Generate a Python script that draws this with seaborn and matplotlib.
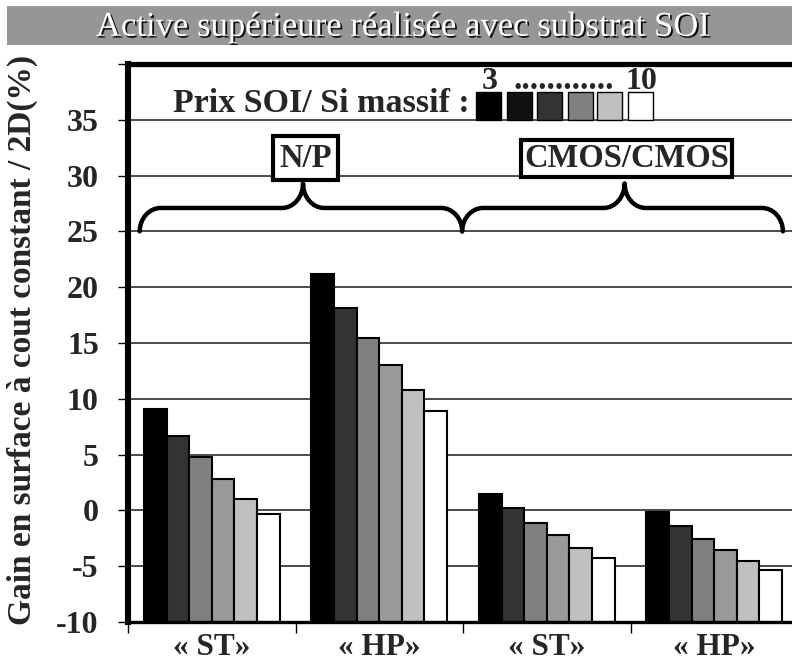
import matplotlib
matplotlib.use("Agg")
import matplotlib.pyplot as plt
import matplotlib.patheffects as pe
from matplotlib.patches import Rectangle, PathPatch
from matplotlib.path import Path
from matplotlib.transforms import IdentityTransform
import pandas as pd
import seaborn as sns

# ---- data -------------------------------------------------------------
technologies = ["N/P", "N/P", "CMOS/CMOS", "CMOS/CMOS"]
devices = ["ST", "HP", "ST", "HP"]
device_labels = ["« ST»", "« HP»", "« ST»", "« HP»"]
price_ratios = ["3", "4", "5", "6", "8", "10"]          # prix SOI / Si massif

gain_np_st = [9.1, 6.7, 4.75, 2.85, 1.05, -0.35]
gain_np_hp = [21.2, 18.15, 15.45, 13.0, 10.8, 8.9]
gain_cmos_st = [1.5, 0.2, -1.15, -2.2, -3.35, -4.3]
gain_cmos_hp = [-0.1, -1.4, -2.6, -3.55, -4.5, -5.3]

bar_colors = ["#000000", "#333333", "#808080", "#999999", "#c0c0c0", "#ffffff"]
legend_colors = ["#000000", "#111111", "#333333", "#808080", "#c0c0c0", "#ffffff"]

y_ticks = [-10, -5, 0, 5, 10, 15, 20, 25, 30, 35, 40]
y_tick_labels = ["-10", "-5", "0", "5", "10", "15", "20", "25", "30", "35", ""]

title = "Active supérieure réalisée avec substrat SOI"
y_title = "Gain en surface à cout constant / 2D(%)"
legend_title = "Prix SOI/ Si massif :"

# ---- table ------------------------------------------------------------
groups = [f"{t} {d}" for t, d in zip(technologies, devices)]
rows = []
for g, vals in zip(groups, [gain_np_st, gain_np_hp, gain_cmos_st, gain_cmos_hp]):
    for r, v in zip(price_ratios, vals):
        rows.append((g, r, v))
df = pd.DataFrame(rows, columns=["groupe", "ratio", "gain"])

# ---- style ------------------------------------------------------------
sns.set_style("white")
plt.rcParams["font.family"] = ["Liberation Serif", "DejaVu Serif"]

W, H = 792, 663
fig = plt.figure(figsize=(W / 100, H / 100), dpi=100)
fig.patch.set_facecolor("white")


def fx(px):
    return px / W


def fy(py):
    return 1 - py / H


ax = fig.add_axes([fx(128), fy(622), fx(798) - fx(128), fy(64) - fy(622)])

sns.barplot(data=df, x="groupe", y="gain", hue="ratio", order=groups,
            hue_order=price_ratios, palette=bar_colors, saturation=1,
            width=0.81, edgecolor="black", linewidth=1.5, legend=False, ax=ax)

ymin, ymax = -10, 40
ax.set_xlim(-0.5, 3.5)
ax.set_ylim(ymin, ymax)

# bars rise from the floor of the axis up to their value
for p in ax.patches:
    top = p.get_y() + p.get_height()
    p.set_y(ymin)
    p.set_height(top - ymin)

# grid and spines
ax.set_axisbelow(True)
ax.yaxis.grid(True, color="#1a1a1a", linewidth=1.1)
ax.xaxis.grid(False)
for side, lw in [("left", 4.4), ("top", 3.8), ("bottom", 2.4), ("right", 2.4)]:
    ax.spines[side].set_visible(True)
    ax.spines[side].set_color("black")
    ax.spines[side].set_linewidth(lw)

# y axis
ax.set_yticks(y_ticks)
ax.set_yticklabels(y_tick_labels, fontsize=23, fontweight="bold")
ax.tick_params(axis="y", left=True, direction="out", length=7, width=1,
               color="black", pad=14)
ax.set_ylabel(y_title, fontsize=24, fontweight="bold")
ax.yaxis.label.set_verticalalignment("center")
ax.yaxis.set_label_coords((22 - 128) / 670, 0.505)

# x axis: ticks on the group boundaries, labels at group centres
ax.set_xticks([-0.5, 0.5, 1.5, 2.5, 3.5])
ax.set_xticklabels([])
ax.set_xticks(range(len(groups)), minor=True)
ax.set_xticklabels(device_labels, minor=True, fontsize=22.5, fontweight="bold")
ax.tick_params(axis="x", which="major", bottom=True, direction="out",
               length=8, width=1, color="black")
ax.tick_params(axis="x", which="minor", bottom=True, length=0, pad=8)
ax.set_xlabel("")


# ---- braces grouping the technologies ---------------------------------
def brace(x0, x1, xtip, y0, ymid, ytip, r=21, lw=3.2):
    to_px = ax.transData.transform
    X0, Y0 = to_px((x0, y0))
    X1, _ = to_px((x1, y0))
    XT, YT = to_px((xtip, ytip))
    _, YM = to_px((x0, ymid))
    k = 0.55
    verts = [(X0, Y0), (X0, Y0 + k * (YM - Y0)), (X0 + r - k * r, YM), (X0 + r, YM),
             (XT - r, YM),
             (XT - r + k * r, YM), (XT, YT - k * (YT - YM)), (XT, YT),
             (XT, YT - k * (YT - YM)), (XT + r - k * r, YM), (XT + r, YM),
             (X1 - r, YM),
             (X1 - r + k * r, YM), (X1, Y0 + k * (YM - Y0)), (X1, Y0)]
    codes = ([Path.MOVETO] + [Path.CURVE4] * 3 + [Path.LINETO] + [Path.CURVE4] * 6
             + [Path.LINETO] + [Path.CURVE4] * 3)
    patch = PathPatch(Path(verts, codes), transform=IdentityTransform(),
                      fill=False, edgecolor="black", linewidth=lw,
                      capstyle="round", joinstyle="round", zorder=5)
    fig.add_artist(patch)


brace(-0.43, 1.495, 0.545, 25.0, 27.1, 29.3)
brace(1.495, 3.41, 2.465, 25.0, 27.1, 29.3)

box_style = dict(boxstyle="square,pad=0.1", facecolor="white",
                 edgecolor="black", linewidth=3.0)
ax.text(0.56, 31.55, technologies[0], ha="center", va="center", fontsize=23.5,
        fontweight="bold", bbox=dict(box_style, boxstyle="square,pad=0.2"),
        zorder=6)
ax.text(2.475, 31.55, technologies[2], ha="center", va="center", fontsize=23.5,
        fontweight="bold", bbox=box_style, zorder=6)

# ---- price-ratio key ---------------------------------------------------
fig.text(fx(470), fy(112), legend_title, fontsize=24.5, fontweight="bold",
         ha="right", va="baseline")
sq_x = [476, 506.5, 537, 567.5, 597, 628]
for x0, c in zip(sq_x, legend_colors):
    fig.add_artist(Rectangle((fx(x0), fy(120)), fx(25), fy(92) - fy(120),
                             transform=fig.transFigure, facecolor=c,
                             edgecolor="black", linewidth=1.0))
fig.text(fx(490), fy(89), price_ratios[0], fontsize=23, fontweight="bold",
         ha="center", va="baseline")
fig.text(fx(564), fy(89), "............", fontsize=24, fontweight="bold",
         ha="center", va="baseline")
fig.text(fx(641), fy(89), price_ratios[-1], fontsize=23, fontweight="bold",
         ha="center", va="baseline")

# ---- title banner ------------------------------------------------------
fig.add_artist(Rectangle((fx(7), fy(45)), 1 - fx(7), fy(6) - fy(45),
                         transform=fig.transFigure, facecolor="#969696",
                         edgecolor="none"))
fig.text(fx(404), fy(27), title, fontsize=25, color="white", ha="center",
         va="center",
         path_effects=[pe.SimplePatchShadow(offset=(1.3, -1.3),
                                            shadow_rgbFace="black", alpha=0.9),
                       pe.Normal()])

fig.savefig("out.png", dpi=100)
